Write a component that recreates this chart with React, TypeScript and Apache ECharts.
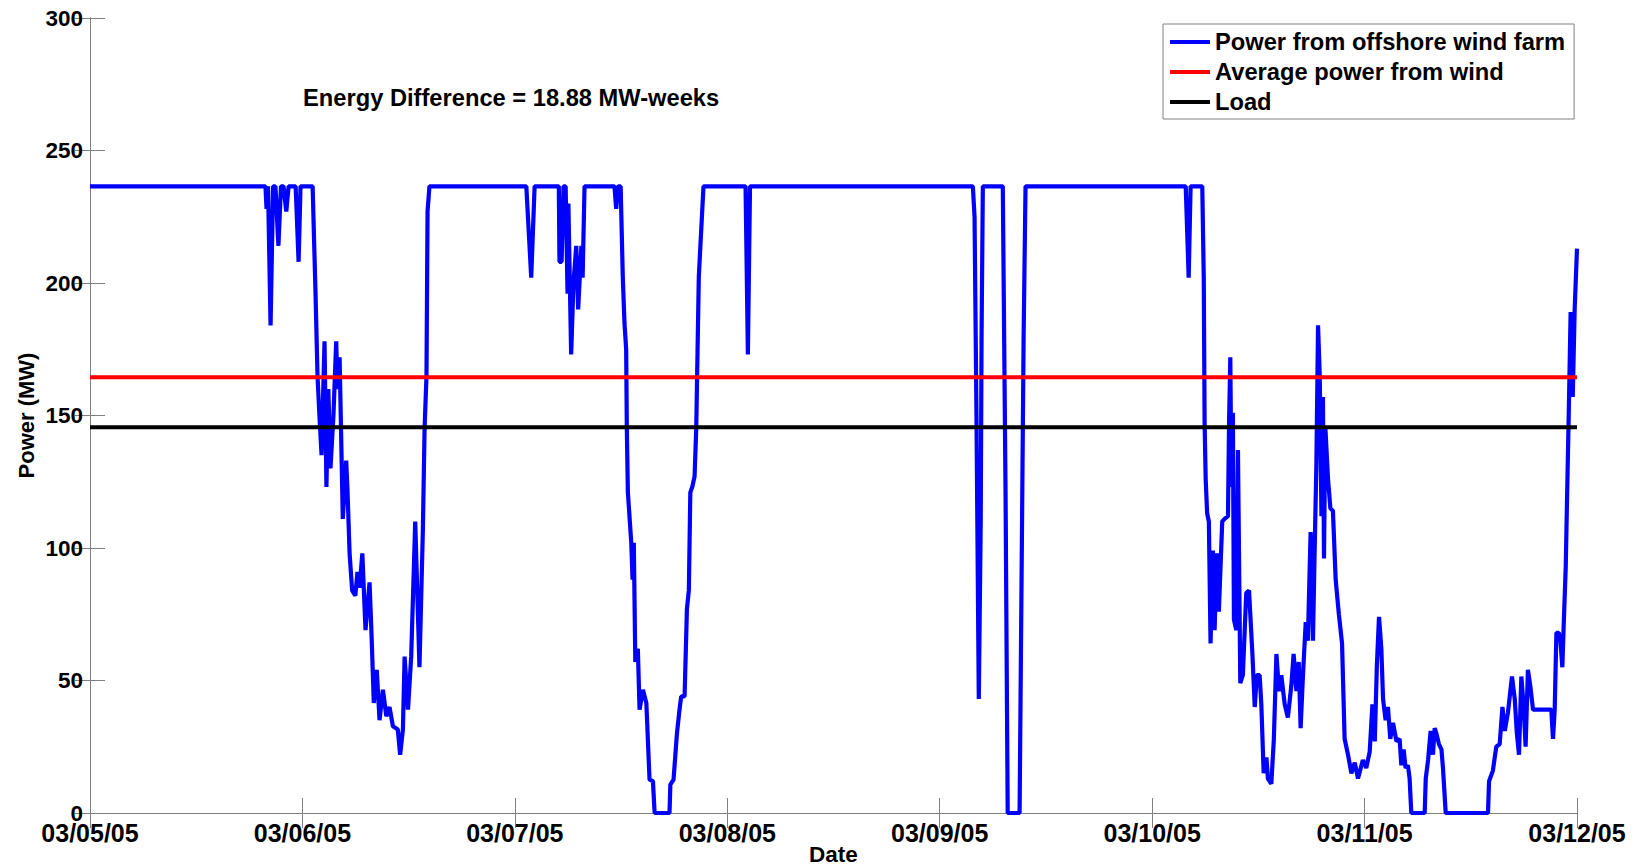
import React, { useEffect, useRef } from "react";
import * as echarts from "echarts";

const dateTicks = ["03/05/05", "03/06/05", "03/07/05", "03/08/05", "03/09/05", "03/10/05", "03/11/05", "03/12/05"];
const seriesNames = ["Power from offshore wind farm", "Average power from wind", "Load"];
const averageWind = 164.4;
const loadLevel = 145.6;
const annotation = "Energy Difference = 18.88 MW-weeks";

// time in days since 03/05/05 00:00
const windDays = [
  0, 0.826, 0.831, 0.838, 0.85, 0.862, 0.873, 0.887, 0.899, 0.911, 0.924, 0.935, 0.968, 0.982, 0.991,
  1.048, 1.062, 1.071, 1.08, 1.09, 1.104, 1.113, 1.122, 1.132, 1.146, 1.159, 1.165, 1.175, 1.19, 1.206,
  1.212, 1.222, 1.234, 1.249, 1.259, 1.269, 1.282, 1.297, 1.316, 1.325, 1.336, 1.35, 1.363, 1.379, 1.395,
  1.41, 1.426, 1.449, 1.46, 1.473, 1.481, 1.497, 1.512, 1.531, 1.551, 1.567, 1.575, 1.584, 1.589, 1.598,
  2.054, 2.077, 2.093, 2.207, 2.21, 2.22, 2.229, 2.239, 2.248, 2.252, 2.265, 2.276, 2.289, 2.298, 2.313,
  2.319, 2.328, 2.469, 2.477, 2.486, 2.498, 2.508, 2.516, 2.524, 2.527, 2.532, 2.548, 2.554, 2.56, 2.567,
  2.579, 2.587, 2.603, 2.619, 2.634, 2.65, 2.658, 2.728, 2.732, 2.747, 2.763, 2.775, 2.783, 2.799, 2.81,
  2.819, 2.826, 2.835, 2.846, 2.854, 2.858, 2.866, 2.888, 3.086, 3.097, 3.107,
  4.156, 4.164, 4.173, 4.184, 4.193, 4.197, 4.203, 4.297, 4.31, 4.32, 4.376, 4.386, 4.395, 4.404,
  5.158, 5.172, 5.181, 5.236, 5.243, 5.247, 5.252, 5.259, 5.267, 5.275, 5.286, 5.294, 5.305, 5.314, 5.33,
  5.341, 5.357, 5.362, 5.368, 5.373, 5.38, 5.385, 5.396, 5.404, 5.415, 5.427, 5.443, 5.456, 5.472, 5.483,
  5.493, 5.506, 5.514, 5.525, 5.538, 5.545, 5.561, 5.573, 5.585, 5.597, 5.608, 5.624, 5.639, 5.655, 5.666,
  5.679, 5.69, 5.699, 5.71, 5.723, 5.733, 5.746, 5.757, 5.765, 5.773, 5.781, 5.789, 5.797, 5.804, 5.809,
  5.815, 5.828, 5.839, 5.851, 5.864, 5.879, 5.894, 5.906, 5.922, 5.938, 5.954, 5.969, 5.992, 6.008, 6.024,
  6.037, 6.048, 6.058, 6.068, 6.079, 6.087, 6.099, 6.11, 6.121, 6.134, 6.15, 6.165, 6.173, 6.184, 6.193,
  6.204, 6.212, 6.22, 6.283, 6.288, 6.299, 6.311, 6.322, 6.33, 6.338, 6.35, 6.362, 6.369, 6.382, 6.581,
  6.586, 6.604, 6.62, 6.636, 6.649, 6.66, 6.675, 6.694, 6.707, 6.717, 6.727, 6.738, 6.749, 6.758, 6.769,
  6.78, 6.793, 6.879, 6.887, 6.895, 6.903, 6.914, 6.922, 6.931, 6.937, 6.947, 6.953, 6.961, 6.97, 6.98,
  6.989, 7.0,
];

// power in MW
const windPower = [
  236.5, 236.5, 228, 236.5, 184, 236.5, 236.5, 214, 236.5, 236.5, 227, 236.5, 236.5, 208, 236.5,
  236.5, 195, 165, 150, 135, 178, 123, 160, 130, 150, 178, 160, 172, 111, 133,
  122, 98, 84, 82, 91, 85, 98, 69, 87, 68, 41.5, 54, 35, 46.5, 36.5,
  40, 32.7, 31.5, 22, 31.5, 59, 39, 59, 110, 55, 107, 145, 165, 227, 236.5,
  236.5, 202, 236.5, 236.5, 208, 208, 236.5, 236.5, 196, 230, 173, 200, 214, 190, 214,
  202, 236.5, 236.5, 228, 236.5, 236.5, 202.5, 185, 175, 145.6, 121, 102, 88, 102, 57,
  62, 39, 46.5, 41.5, 12.6, 12, 0, 0, 10.7, 12.6, 30, 39, 44, 44, 77,
  84, 121, 123, 127, 145.6, 165, 202.5, 236.5, 236.5, 173, 236.5,
  236.5, 225, 150, 43, 110, 180, 236.5, 236.5, 120, 0, 0, 95, 180, 236.5,
  236.5, 202, 236.5, 236.5, 202, 147, 126, 113, 110, 64, 99, 69, 98, 76, 110,
  111, 112, 147, 172, 123, 151, 73, 69, 137, 49, 52, 83, 84, 60, 40,
  52, 52, 41, 15, 21, 13, 11, 28, 60, 46, 52, 41, 36, 48, 60,
  46, 57, 32, 52, 72, 65, 106, 65, 99, 131, 184, 165, 112, 157, 96,
  146, 126, 115, 114, 88, 75, 64, 28, 22, 15, 19, 13, 20, 17, 23,
  41, 27, 56, 74, 62, 43, 35, 40, 28, 34, 27, 28, 18, 24, 17,
  18, 13, 0, 0, 13, 20, 31, 22, 32, 30, 26, 24, 17, 0, 0,
  12, 16, 25, 26, 40, 31, 38, 51.5, 43, 30, 22, 51.5, 40, 25, 54,
  48, 39, 39, 28, 39, 68, 68, 65, 55, 70, 93, 118, 150, 189, 157,
  190, 213,
];

export default function App() {
  const ref = useRef<HTMLDivElement>(null);
  useEffect(() => {
    const chart = echarts.init(ref.current!, null, { renderer: "svg" });
    const font = "'Liberation Sans', Arial, Helvetica, sans-serif";
    const frame = "#808080";
    const tick = { show: true, inside: true, length: 15, lineStyle: { color: frame, width: 1 } };
    const line = { show: true, lineStyle: { color: frame, width: 1 } };
    const wind = windDays.map((d, i) => [d, windPower[i]]);

    chart.setOption({
      animation: false,
      backgroundColor: "#ffffff",
      textStyle: { fontFamily: font },
      grid: { left: 90, right: 62, top: 18, bottom: 53, containLabel: false, outerBoundsMode: "none" },
      legend: {
        data: seriesNames,
        orient: "vertical",
        left: 1163,
        top: 24,
        padding: [5, 9, 4, 7],
        itemGap: 4,
        itemWidth: 40,
        itemHeight: 4,
        icon: "rect",
        backgroundColor: "#ffffff",
        borderColor: frame,
        borderWidth: 1,
        selectedMode: false,
        textStyle: { fontFamily: font, fontSize: 23.7, fontWeight: "bold", color: "#000", lineHeight: 26 },
      },
      xAxis: [
        {
          type: "value",
          position: "bottom",
          min: 0,
          max: 7,
          interval: 1,
          axisLine: line,
          axisTick: tick,
          splitLine: { show: false },
          axisLabel: {
            margin: 7,
            fontFamily: font,
            fontSize: 25,
            fontWeight: "bold",
            color: "#000",
            formatter: (v: number) => dateTicks[Math.round(v)] ?? "",
          },
          name: "Date",
          nameLocation: "middle",
          nameGap: 30,
          nameMoveOverlap: false,
          nameTextStyle: { fontFamily: font, fontSize: 22.5, fontWeight: "bold", color: "#000" },
        },
        {
          type: "value",
          position: "top",
          min: 0,
          max: 7,
          interval: 1,
          axisLine: line,
          axisTick: tick,
          axisLabel: { show: false },
          splitLine: { show: false },
        },
      ],
      yAxis: [
        {
          type: "value",
          position: "left",
          min: 0,
          max: 300,
          interval: 50,
          axisLine: line,
          axisTick: tick,
          splitLine: { show: false },
          axisLabel: { margin: 7, fontFamily: font, fontSize: 22.5, fontWeight: "bold", color: "#000" },
          name: "Power (MW)",
          nameLocation: "middle",
          nameGap: 53,
          nameMoveOverlap: false,
          nameTextStyle: { fontFamily: font, fontSize: 22, fontWeight: "bold", color: "#000" },
        },
        {
          type: "value",
          position: "right",
          min: 0,
          max: 300,
          interval: 50,
          axisLine: line,
          axisTick: tick,
          axisLabel: { show: false },
          splitLine: { show: false },
        },
      ],
      graphic: [
        {
          type: "text",
          left: 303,
          top: 86,
          style: { text: annotation, fontFamily: font, fontSize: 23.7, fontWeight: "bold", fill: "#000" },
        },
      ],
      series: [
        {
          name: seriesNames[0],
          type: "line",
          xAxisIndex: 0,
          yAxisIndex: 0,
          data: wind,
          symbol: "none",
          silent: true,
          lineStyle: { color: "#0000ff", width: 4.2 },
          itemStyle: { color: "#0000ff" },
        },
        {
          name: seriesNames[1],
          type: "line",
          data: [[0, averageWind], [7, averageWind]],
          symbol: "none",
          silent: true,
          lineStyle: { color: "#ff0000", width: 4 },
          itemStyle: { color: "#ff0000" },
        },
        {
          name: seriesNames[2],
          type: "line",
          data: [[0, loadLevel], [7, loadLevel]],
          symbol: "none",
          silent: true,
          lineStyle: { color: "#000000", width: 4 },
          itemStyle: { color: "#000000" },
        },
      ],
    });
    return () => chart.dispose();
  }, []);
  return (
    <div
      ref={ref}
      style={{ position: "fixed", left: 0, top: 0, width: 1639, height: 866, background: "#fff" }}
    />
  );
}
